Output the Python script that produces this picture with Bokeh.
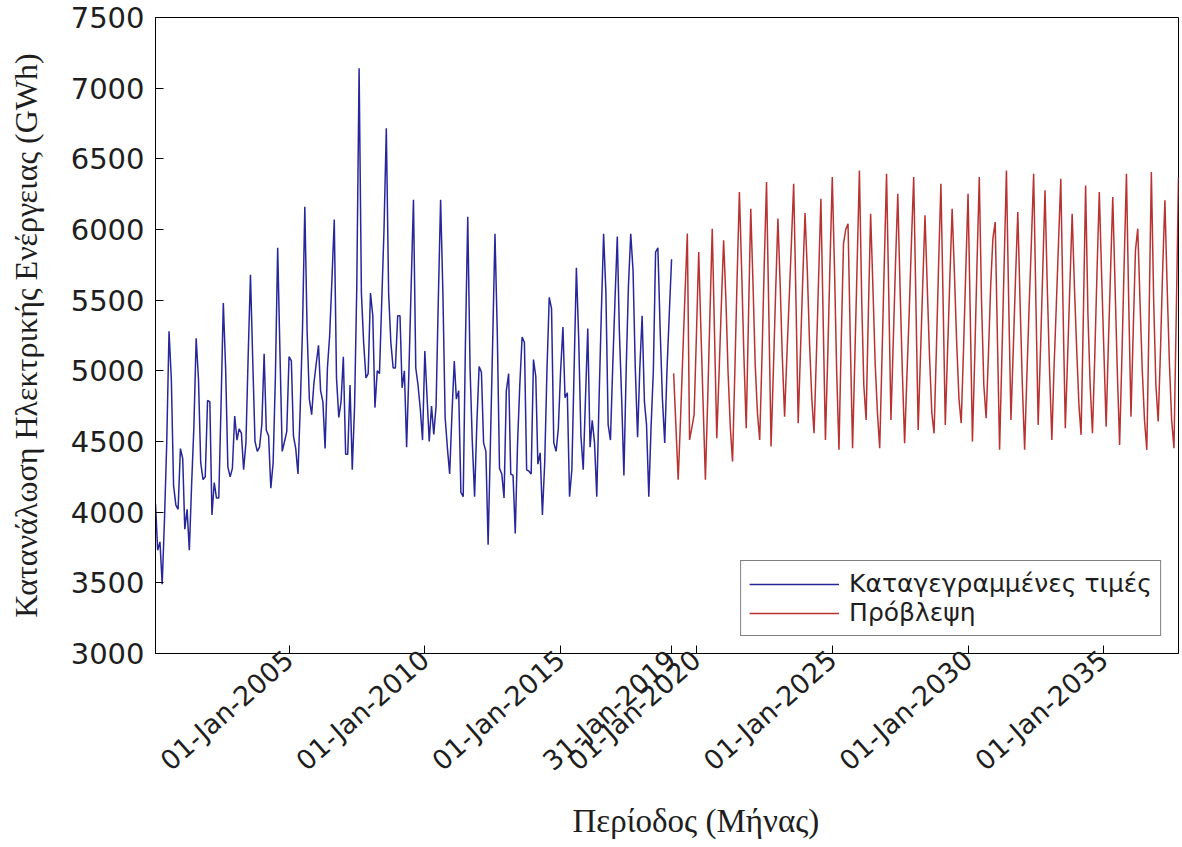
import numpy as np
import pandas as pd
from bokeh.plotting import figure
from bokeh.models import (Range1d, FixedTicker, Legend, LegendItem,
                          DatetimeTickFormatter, Title)
from bokeh.embed import file_html
from bokeh.resources import INLINE

# ---------------- data (monthly, GWh) ----------------
recorded_start = "2000-01-31"
recorded = [
    4060, 3730, 3790, 3490, 3950, 4490, 5280, 4940, 4190, 4050, 4020, 4450,
    4380, 3880, 4020, 3730, 4200, 4600, 5230, 4940, 4350, 4230, 4250, 4790,
    4780, 3980, 4210, 4100, 4100, 4750, 5480, 5020, 4320, 4250, 4310, 4680,
    4510, 4590, 4560, 4300, 4490, 5100, 5680, 5070, 4500, 4430, 4460, 4620,
    5120, 4580, 4540, 4170, 4350, 4950, 5870, 5120, 4430, 4500, 4570, 5100,
    5070, 4540, 4450, 4270, 4750, 5300, 6160, 5280, 4800, 4690, 4910, 5050,
    5180, 4860, 4780, 4450, 5020, 5250, 5650, 6070, 4950, 4670, 4780, 5100,
    4410, 4410, 4900, 4300, 4750, 5600, 7140, 5550, 5200, 4950, 4980, 5550,
    5390, 4740, 5000, 4980, 5500, 6000, 6716, 5550, 5200, 5020, 5020, 5390,
    5390, 4880, 5000, 4460, 5000, 5600, 6210, 5020, 4900, 4730, 4510, 5140,
    4800, 4500, 4750, 4550, 4750, 5500, 6210, 5550, 4670, 4450, 4270, 4700,
    5070, 4800, 4860, 4140, 4110, 5200, 6090, 5020, 4500, 4110, 4620, 5030,
    4990, 4490, 4430, 3770, 4490, 5200, 5970, 5280, 4310, 4270, 4100, 4860,
    4980, 4270, 4260, 3850, 4490, 4900, 5240, 5200, 4300, 4290, 4270, 5080,
    4960, 4340, 4420, 3980, 4350, 5000, 5520, 5440, 4490, 4430, 4590, 5000,
    5310, 4810, 4845, 4110, 4300, 5000, 5730, 5230, 4540, 4300, 4800, 5300,
    4460, 4650, 4490, 4110, 4800, 5400, 5970, 5550, 4620, 4510, 5020, 5500,
    5950, 5280, 4800, 4260, 5020, 5600, 5970, 5710, 5020, 4530, 5020, 5390,
    4780, 4620, 4110, 4600, 5000, 5840, 5870, 5280, 4800, 4490, 5000, 5400,
    5790,
]

forecast_start = "2019-02-28"
forecast = [
    4982, 4600, 4229, 4650, 5100, 5550, 5971, 4511, 4600, 4688, 5250, 5841,
    5300, 4750, 4229, 4800, 5400, 6006, 5250, 4523, 4990, 5460, 5924, 5500,
    5000, 4600, 4358, 5000, 5650, 6265, 5700, 5100, 4594, 5370, 6147, 5600,
    5050, 4700, 4511, 5100, 5750, 6336, 5400, 4464, 5000, 5550, 6077, 5600,
    5100, 4676, 5100, 5500, 5900, 6324, 5500, 4629, 5150, 5650, 6117, 5700,
    5200, 4800, 4558, 5100, 5650, 6218, 5350, 4511, 5100, 5750, 6371, 5700,
    5000, 4441, 5200, 5900, 6000, 6041, 5200, 4452, 5100, 5750, 6418, 5500,
    4900, 4653, 5400, 6112, 5600, 5050, 4700, 4452, 5100, 5750, 6394, 5500,
    4653, 5200, 5750, 6253, 5600, 5000, 4488, 4950, 5400, 5900, 6371, 5450,
    4582, 5100, 5600, 6100, 5600, 5100, 4700, 4558, 5150, 5750, 6324, 5450,
    4617, 5150, 5650, 6147, 5700, 5200, 4800, 4629, 5150, 5700, 6253, 5350,
    4500, 5100, 5750, 6371, 5500, 4900, 4664, 5100, 5600, 5935, 6053, 5200,
    4441, 5100, 5750, 6418, 5500, 4653, 5150, 5650, 6124, 5500, 4900, 4441,
    4950, 5450, 5900, 6394, 5500, 4617, 5150, 5700, 6277, 5600, 5000, 4511,
    5000, 5450, 5900, 6359, 5450, 4594, 5100, 5600, 6112, 5600, 5150, 4750,
    4547, 5400, 6312, 5400, 4900, 4558, 5100, 5700, 6265, 5700, 5150, 4605,
    5150, 5700, 6230, 5600, 5000, 4476, 5100, 5750, 6394, 5500, 4676, 5300,
    5850, 6006, 5500, 5000, 4650, 4441, 5400, 6406, 5500, 4900, 4641, 5150,
    5700, 6206, 5600, 5050, 4650, 4452, 5400, 6371,
]

y_ticks = [3000, 3500, 4000, 4500, 5000, 5500, 6000, 6500, 7000, 7500]
x_tick_dates = ["2005-01-01", "2010-01-01", "2015-01-01", "2019-01-31",
                "2020-01-01", "2025-01-01", "2030-01-01", "2035-01-01"]
x_tick_labels = ["01-Jan-2005", "01-Jan-2010", "01-Jan-2015", "31-Jan-2019",
                 "01-Jan-2020", "01-Jan-2025", "01-Jan-2030", "01-Jan-2035"]
series_labels = ["Καταγεγραμμένες τιμές", "Πρόβλεψη"]
x_title = "Περίοδος (Μήνας)"
y_title = "Κατανάλωση Ηλεκτρικής Ενέργειας (GWh)"

# ---------------- build ----------------
rec_dates = pd.date_range(recorded_start, periods=len(recorded), freq=pd.offsets.MonthEnd())
fc_dates = pd.date_range(forecast_start, periods=len(forecast), freq=pd.offsets.MonthEnd())
x_tick_ms = [float(pd.Timestamp(d).value // 10**6) for d in x_tick_dates]

BLUE = "#27279a"
RED = "#b83232"
SANS = "DejaVu Sans"
SERIF = "Liberation Serif"
TXT = "#1e1e1e"

p = figure(width=1182, height=847, x_axis_type="datetime",
           x_range=Range1d(rec_dates[0], fc_dates[-1]),
           y_range=Range1d(y_ticks[0], y_ticks[-1]),
           output_backend="svg", toolbar_location=None,
           min_border_left=155, min_border_right=4,
           min_border_top=17, min_border_bottom=193)
p.background_fill_color = "white"
p.border_fill_color = "white"
p.outline_line_color = "black"
p.outline_line_width = 1
p.xgrid.visible = False
p.ygrid.visible = False

r_rec = p.line(rec_dates, recorded, line_color=BLUE, line_width=1.5)
r_fc = p.line(fc_dates, forecast, line_color=RED, line_width=1.5)

# bottom axis
xa = p.xaxis[0]
xa.ticker = FixedTicker(ticks=x_tick_ms)
xa.formatter = DatetimeTickFormatter(days="%d-%b-%Y", months="%d-%b-%Y", years="%d-%b-%Y")
xa.major_label_overrides = dict(zip(x_tick_ms, x_tick_labels))
xa.major_label_orientation = 0.72
xa.major_tick_in = 8
xa.major_tick_out = 0
xa.minor_tick_in = 0
xa.minor_tick_out = 0
xa.major_label_standoff = 2
xa.major_label_text_font = SANS
xa.major_label_text_font_size = "27px"
xa.major_label_text_color = TXT
xa.axis_line_color = "black"

# x-axis title, shifted as in the reference
xt = Title(text=x_title, align="left", offset=417, standoff=18)
xt.text_font = SERIF
xt.text_font_style = "normal"
xt.text_font_size = "33px"
xt.text_color = TXT
p.add_layout(xt, "below")

# left axis
ya = p.yaxis[0]
ya.ticker = FixedTicker(ticks=y_ticks)
ya.major_tick_in = 8
ya.major_tick_out = 0
ya.minor_tick_in = 0
ya.minor_tick_out = 0
ya.major_label_standoff = 11
ya.major_label_text_font = SANS
ya.major_label_text_font_size = "29px"
ya.major_label_text_color = TXT
ya.axis_line_color = "black"
ya.axis_label = y_title
ya.axis_label_text_font = SERIF
ya.axis_label_text_font_style = "normal"
ya.axis_label_text_font_size = "32px"
ya.axis_label_text_color = TXT
ya.axis_label_standoff = 24

legend = Legend(items=[LegendItem(label=series_labels[0], renderers=[r_rec]),
                       LegendItem(label=series_labels[1], renderers=[r_fc])],
                location="bottom_right")
legend.label_text_font = SANS
legend.label_text_font_size = "25px"
legend.label_text_color = TXT
legend.glyph_width = 90
legend.glyph_height = 26
legend.label_standoff = 10
legend.label_height = 26
legend.padding = 8
legend.spacing = 0
legend.margin = 17
legend.border_line_color = "black"
legend.border_line_width = 1
legend.background_fill_color = "white"
legend.background_fill_alpha = 1
p.add_layout(legend)

open("out.html", "w").write(file_html(p, INLINE))
